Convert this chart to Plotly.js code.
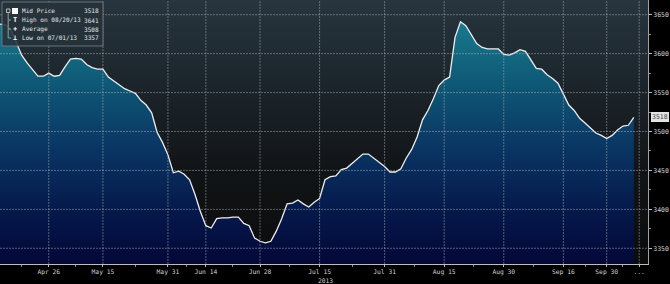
<!DOCTYPE html>
<html>
<head>
<meta charset="utf-8">
<script src="https://cdn.plot.ly/plotly-3.0.1.min.js"></script>
<style>html,body{margin:0;padding:0;background:#000;}#chart{width:670px;height:284px;}</style>
</head>
<body>
<div id="chart"></div>
<script>
// ---- data (trading-day index, Chinese market calendar, 2013) ----
const dayIndex = Array.from({length: 118}, (_, i) => i);
const midPrice = [
  3638,3637,3631,3614,3598,3588,3579,3571,3571,3575,
  3571,3572,3583,3593,3594,3593,3586,3582,3580,3580,
  3570,3565,3560,3555,3552,3549,3540,3534,3524,3499,
  3486,3470,3447,3449,3445,3438,3419,3397,3379,3376,
  3388,3389,3389,3390,3390,3382,3379,3363,3359,3357,
  3359,3372,3388,3407,3408,3412,3407,3403,3409,3414,
  3438,3442,3443,3451,3453,3459,3465,3471,3471,3466,
  3461,3455,3448,3448,3452,3466,3477,3493,3515,3527,
  3542,3559,3566,3570,3621,3641,3636,3624,3613,3608,
  3606,3606,3606,3599,3598,3601,3605,3603,3592,3581,
  3580,3573,3568,3562,3548,3534,3527,3517,3511,3504,
  3498,3495,3491,3495,3502,3507,3508,3518
];
const xTickIdx   = [9, 19, 31, 38, 48, 59, 71, 82, 93, 104, 112, 118];
const xTickText  = ["Apr 26","May 15","May 31","Jun 14","Jun 28","Jul 15","Jul 31","Aug 15","Aug 30","Sep 16","Sep 30","..."];
const yTicks     = [3350, 3400, 3450, 3500, 3550, 3600, 3650];
const legendNames  = ["Mid Price", "High on 08/20/13", "Average", "Low on 07/01/13"];
const legendValues = ["3518", "3641", "3508", "3357"];
const lastLabel = "3518";
const yearLabel = "2013";

// ---- layout helpers ----
const W = 648, H = 264; // plot area in px
const PX = p => p / W;
const PY = p => 1 - p / H;
const FONT = "DejaVu Sans Mono, monospace";
const TXT = "#d0d0d0";

const minorX = [];
for (let i = 0; i < xTickIdx.length - 1; i++) minorX.push((xTickIdx[i] + xTickIdx[i+1]) / 2);
minorX.unshift(xTickIdx[0] - (xTickIdx[1] - xTickIdx[0]) / 2);

const gridCol = "rgba(165,175,185,0.5)";
const shapes = [];
yTicks.forEach(v => shapes.push({type:"line", xref:"paper", yref:"y", x0:0, x1:1, y0:v, y1:v,
  line:{color:gridCol, width:1, dash:"2px,1px"}, layer:"above"}));
xTickIdx.forEach(v => shapes.push({type:"line", xref:"x", yref:"paper", x0:v, x1:v, y0:0, y1:1,
  line:{color:gridCol, width:1, dash:"2px,1px"}, layer:"above"}));

// legend box
shapes.push({type:"rect", xref:"paper", yref:"paper", x0:PX(2), x1:PX(103), y0:PY(46), y1:PY(2),
  fillcolor:"rgba(38,50,58,0.88)", line:{color:"rgba(120,130,140,0.8)", width:1}, layer:"above"});
// legend icons
shapes.push({type:"rect", xref:"paper", yref:"paper", x0:PX(6.5), x1:PX(10), y0:PY(12.5), y1:PY(9),
  fillcolor:"rgba(0,0,0,0)", line:{color:"#bbbbbb", width:1}, layer:"above"});
shapes.push({type:"rect", xref:"paper", yref:"paper", x0:PX(12), x1:PX(18), y0:PY(14), y1:PY(8),
  fillcolor:"#ffffff", line:{color:"#ffffff", width:0}, layer:"above"});
shapes.push({type:"line", xref:"paper", yref:"paper", x0:PX(8.2), x1:PX(8.2), y0:PY(13), y1:PY(38),
  line:{color:"#9a9a9a", width:1}, layer:"above"});
[20, 29, 38].forEach(r => shapes.push({type:"line", xref:"paper", yref:"paper", x0:PX(8.2), x1:PX(11), y0:PY(r), y1:PY(r),
  line:{color:"#9a9a9a", width:1}, layer:"above"}));

const annotations = [];
const rowsY = [11, 20, 29, 38];
const icons = ["", "T", "+", "⊥"];
legendNames.forEach((n, i) => {
  annotations.push({xref:"paper", yref:"paper", x:PX(20.5), y:PY(rowsY[i]), xanchor:"left", yanchor:"middle",
    text:n, showarrow:false, borderpad:0, font:{family:FONT, size:6.1, color:"#e2e2e2"}});
  annotations.push({xref:"paper", yref:"paper", x:PX(100), y:PY(rowsY[i]), xanchor:"right", yanchor:"middle",
    text:legendValues[i], showarrow:false, borderpad:0, font:{family:FONT, size:6.1, color:"#e2e2e2"}});
  if (icons[i]) annotations.push({xref:"paper", yref:"paper", x:PX(15), y:PY(rowsY[i]), xanchor:"center", yanchor:"middle",
    text:"<b>"+icons[i]+"</b>", showarrow:false, borderpad:0, font:{family:FONT, size:7, color:"#ffffff"}});
});
annotations.push({xref:"paper", yref:"paper", x:PX(325), y:PY(280), xanchor:"center", yanchor:"middle",
  text:yearLabel, showarrow:false, borderpad:0, font:{family:FONT, size:6.3, color:TXT}});
annotations.push({xref:"paper", yref:"y", x:1, xshift:3, y:+lastLabel, xanchor:"left", yanchor:"middle",
  text:lastLabel, showarrow:false, bgcolor:"#e4e4e4", bordercolor:"#ffffff", borderwidth:0, borderpad:1,
  font:{family:FONT, size:6.5, color:"#404040"}});

const bgSvg = "<svg xmlns='http://www.w3.org/2000/svg' width='10' height='100' preserveAspectRatio='none'>" +
  "<defs><linearGradient id='g' x1='0' y1='0' x2='0' y2='1'>" +
  "<stop offset='0' stop-color='#27353e'/><stop offset='0.35' stop-color='#1b2329'/>" +
  "<stop offset='0.65' stop-color='#111416'/><stop offset='1' stop-color='#0a0b0c'/>" +
  "</linearGradient></defs><rect width='10' height='100' fill='url(#g)'/></svg>";

const trace = {
  x: dayIndex, y: midPrice, type: "scatter", mode: "lines",
  line: {color: "#eeeeee", width: 1.3},
  fill: "tozeroy",
  fillgradient: {type: "vertical", start: 3330, stop: 3660,
    colorscale: [[0, "#030838"], [0.2, "#05184a"], [0.45, "#0a3563"], [0.7, "#0f5876"], [1, "#1a8292"]]},
  hoverinfo: "skip", showlegend: false
};

const layout = {
  width: 670, height: 284,
  margin: {l: 0, r: 22, t: 0, b: 20, pad: 0},
  paper_bgcolor: "#000000", plot_bgcolor: "#000000",
  showlegend: false,
  xaxis: {range: [0, W / 5.417], tickmode: "array", tickvals: xTickIdx, ticktext: xTickText,
    showgrid: false, zeroline: false, showline: true, linecolor: "#bdbdbd", linewidth: 1,
    ticks: "outside", ticklen: 2, tickcolor: "#bdbdbd", ticklabelstandoff: -1,
    tickfont: {family: FONT, size: 6.3, color: TXT},
    minor: {tickmode: "array", tickvals: minorX, ticks: "outside", ticklen: 2, tickcolor: "#888888", showgrid: false},
    fixedrange: true},
  yaxis: {side: "right", range: [3329.8, 3668.9], tickmode: "array", tickvals: yTicks,
    showgrid: false, zeroline: false, showline: true, linecolor: "#a0a0a0", linewidth: 1,
    ticks: "outside", ticklen: 3, tickcolor: "#bdbdbd", tickfont: {family: FONT, size: 6.5, color: TXT},
    minor: {dtick: 25, ticks: "outside", ticklen: 2, tickcolor: "#999999", showgrid: false},
    fixedrange: true},
  images: [{source: "data:image/svg+xml;utf8," + encodeURIComponent(bgSvg), xref: "paper", yref: "paper",
    x: 0, y: 1, sizex: 1, sizey: 1, xanchor: "left", yanchor: "top", sizing: "stretch", layer: "below"}],
  shapes: shapes,
  annotations: annotations
};

Plotly.newPlot("chart", [trace], layout, {displayModeBar: false, staticPlot: true});
</script>
</body>
</html>
